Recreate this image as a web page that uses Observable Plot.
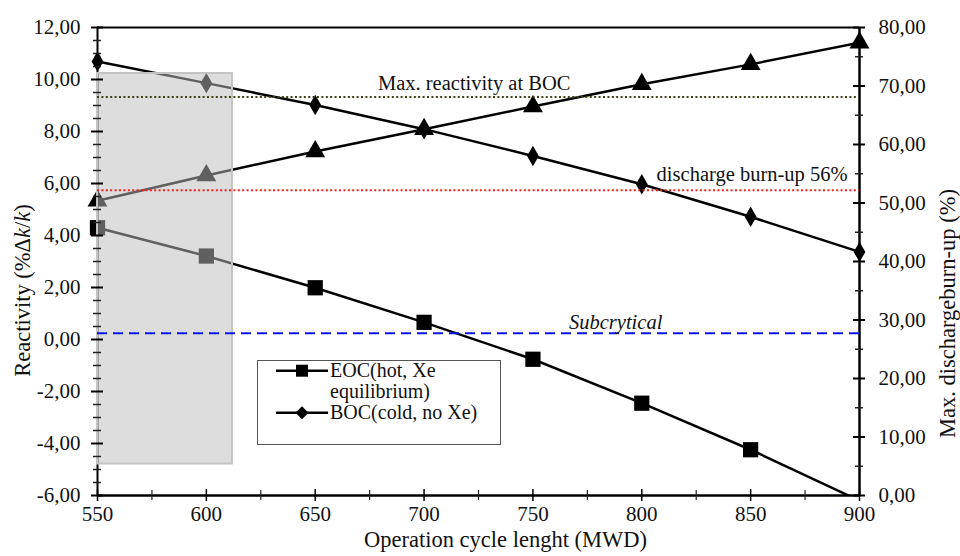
<!DOCTYPE html>
<html><head><meta charset="utf-8">
<script src="https://cdn.jsdelivr.net/npm/d3@7"></script>
<script src="https://cdn.jsdelivr.net/npm/@observablehq/plot@0.6"></script>
<style>
html,body{margin:0;padding:0;background:#fff;}
#wrap{position:relative;width:960px;height:556px;font-family:"Liberation Serif","Times New Roman",Tinos,"DejaVu Serif",serif;}
#wrap svg, #wrap svg text{font-family:"Liberation Serif","Times New Roman",Tinos,"DejaVu Serif",serif !important;}
#legend{position:absolute;left:257px;top:360px;}
</style></head><body><div id="wrap"></div>
<script>
// ---- data ----
const cycles = [550, 600, 650, 700, 750, 800, 850, 900];
const eocReactivity = [4.30, 3.21, 1.99, 0.66, -0.76, -2.45, -4.24, -6.2];   // %Δk/k, left axis
const bocReactivity = [10.69, 9.86, 9.02, 8.09, 7.06, 5.97, 4.72, 3.37];    // %Δk/k, left axis
const maxBurnup = [50.4, 54.7, 58.8, 62.6, 66.5, 70.3, 73.7, 77.4];         // %, right axis

const xTicks = [550, 600, 650, 700, 750, 800, 850, 900];
const leftTicks = [-6, -4, -2, 0, 2, 4, 6, 8, 10, 12];
const rightTicks = [0, 10, 20, 30, 40, 50, 60, 70, 80];

const shadeX = [550, 612];
const shadeY = [-4.79, 10.23];

const refMaxReactivity = 9.33;   // left axis
const refDischargeBurnup = 52.2; // right axis
const refSubcritical = 0.24;     // left axis

const xTitle = "Operation cycle lenght (MWD)";
const yTitle = "Reactivity (%Δk/k)";
const y2Title = "Max. dischargeburn-up (%)";
const legendLabels = [["EOC(hot, Xe", "equilibrium)"], ["BOC(cold, no Xe)"]];

// ---- helpers ----
const FONT = '"Liberation Serif", "Times New Roman", Tinos, "DejaVu Serif", serif';
const yDomain = [-6, 12], y2Domain = [0, 80];
const toLeft = v => yDomain[0] + (v - y2Domain[0]) * (yDomain[1] - yDomain[0]) / (y2Domain[1] - y2Domain[0]);
const toRight = v => y2Domain[0] + (v - yDomain[0]) * (y2Domain[1] - y2Domain[0]) / (yDomain[1] - yDomain[0]);
const fmt = v => (Math.round(v * 100) / 100).toFixed(2).replace(".", ",");

const eoc = cycles.map((c, i) => ({x: c, y: eocReactivity[i]}));
const boc = cycles.map((c, i) => ({x: c, y: bocReactivity[i]}));
const bu = cycles.map((c, i) => ({x: c, y: toLeft(maxBurnup[i])}));

const leftMinor = d3.range(yDomain[0], yDomain[1] + 0.01, 0.5).filter(v => !leftTicks.includes(v));
const rightMinor = d3.range(5, 80, 10).map(toLeft);
const xMinor = d3.range(575, 900, 50);

const FS_TICK = 21, FS_TITLE = 22.5, FS_NOTE = 20.5;

const plot = Plot.plot({
  width: 960, height: 556,
  marginLeft: 97, marginRight: 101, marginTop: 27, marginBottom: 61,
  style: {fontFamily: FONT, background: "white", color: "black"},
  x: {domain: [550, 900], axis: null},
  y: {domain: yDomain, axis: null},
  marks: [
    // left axis line (under the overlay)
    Plot.ruleX([550], {stroke: "black", strokeWidth: 2}),
    // series lines
    Plot.line(eoc, {x: "x", y: "y", stroke: "black", strokeWidth: 2.5, clip: true}),
    Plot.line(boc, {x: "x", y: "y", stroke: "black", strokeWidth: 2.5, clip: true}),
    Plot.line(bu, {x: "x", y: "y", stroke: "black", strokeWidth: 2.5, clip: true}),
    // markers
    Plot.dot(eoc.filter(d => d.y >= yDomain[0]), {x: "x", y: "y", symbol: "square", r: 8.6, fill: "black", stroke: "none"}),
    Plot.dot(boc, {x: "x", y: "y", symbol: "diamond", r: 6.2, fill: "black", stroke: "none"}),
    Plot.dot(bu, {x: "x", y: "y", symbol: "triangle", r: 7.4, fill: "black", stroke: "none"}),
    // shaded overlay
    Plot.rect([0], {x1: () => shadeX[0], x2: () => shadeX[1], y1: () => shadeY[0], y2: () => shadeY[1],
      fill: "rgb(188,188,188)", fillOpacity: 0.51, stroke: "#c4c4c4", strokeWidth: 2}),
    // frame
    Plot.ruleY([12], {stroke: "black", strokeWidth: 2}),
    Plot.ruleY([-6], {stroke: "black", strokeWidth: 2.5}),
    Plot.ruleX([900], {stroke: "black", strokeWidth: 2.5}),
    // ticks (crossing the axes)
    Plot.ruleY(leftTicks, {y: d => d, x1: () => 550, x2: () => 550, insetLeft: -6, insetRight: -6, stroke: "black", strokeWidth: 2}),
    Plot.ruleY(leftMinor, {y: d => d, x1: () => 550, x2: () => 550, insetLeft: -4, insetRight: -4, stroke: "#222", strokeWidth: 1.5}),
    Plot.ruleY(rightTicks.map(toLeft), {y: d => d, x1: () => 900, x2: () => 900, insetLeft: -6, insetRight: -6, stroke: "black", strokeWidth: 2}),
    Plot.ruleY(rightMinor, {y: d => d, x1: () => 900, x2: () => 900, insetLeft: -4, insetRight: -4, stroke: "#222", strokeWidth: 1.5}),
    Plot.ruleX(xTicks, {x: d => d, y1: () => -6, y2: () => -6, insetTop: -6, insetBottom: -6, stroke: "black", strokeWidth: 1.5}),
    Plot.ruleX(xMinor, {x: d => d, y1: () => -6, y2: () => -6, insetTop: -5, insetBottom: -5, stroke: "#222", strokeWidth: 1.2}),
    // reference lines
    Plot.ruleY([refMaxReactivity], {stroke: "#3f3f14", strokeWidth: 2, strokeDasharray: "2,2.4"}),
    Plot.ruleY([toLeft(refDischargeBurnup)], {stroke: "#f02020", strokeWidth: 2, strokeDasharray: "2,2.4"}),
    Plot.ruleY([refSubcritical], {stroke: "#0a14f0", strokeWidth: 2, strokeDasharray: "10,6"}),
    // annotations
    Plot.text(["Max. reactivity at BOC"], {x: () => 723, y: () => refMaxReactivity, text: d => d, lineAnchor: "bottom", dy: -7, fontSize: FS_NOTE, fill: "#111", textAnchor: "middle"}),
    Plot.text(["discharge burn-up 56%"], {x: () => 894.5, y: () => toLeft(refDischargeBurnup), text: d => d, lineAnchor: "bottom", dy: -9, fontSize: FS_NOTE, fill: "#111", textAnchor: "end"}),
    Plot.text(["Subcrytical"], {x: () => 788, y: () => refSubcritical, text: d => d, lineAnchor: "bottom", dy: -4, fontSize: FS_NOTE, fill: "#111", fontStyle: "italic", textAnchor: "middle"}),
    // axes labels
    Plot.axisY({ticks: leftTicks, tickSize: 0, tickPadding: 17, tickFormat: fmt, fontSize: FS_TICK, label: null, fill: "#111"}),
    Plot.axisY({anchor: "right", ticks: rightTicks.map(toLeft), tickSize: 0, tickPadding: 19, tickFormat: d => fmt(toRight(d)), fontSize: FS_TICK, label: null, fill: "#111"}),
    Plot.axisX({ticks: xTicks, tickSize: 0, tickPadding: 11, tickFormat: d => String(d), fontSize: FS_TICK, label: null, fill: "#111"}),
    // axis titles
    Plot.text([xTitle], {frameAnchor: "bottom", text: d => d, dx: 27, dy: 51, lineAnchor: "bottom", textAnchor: "middle", fontSize: FS_TITLE, fill: "#111"}),
    Plot.text([yTitle], {frameAnchor: "left", text: d => d, dx: -75, dy: 29, rotate: -90, lineAnchor: "middle", textAnchor: "middle", fontSize: FS_TITLE, fill: "#111"}),
    Plot.text([y2Title], {frameAnchor: "right", text: d => d, dx: 88, dy: 52, rotate: -90, lineAnchor: "middle", textAnchor: "middle", fontSize: FS_TITLE, fill: "#111"})
  ]
});

// italic k in the y title
d3.select(plot).selectAll("text").filter(function () { return this.textContent === yTitle; }).each(function () {
  const t = d3.select(this);
  t.text(null);
  t.append("tspan").text("Reactivity (%Δ");
  t.append("tspan").attr("font-style", "italic").text("k");
  t.append("tspan").text("/");
  t.append("tspan").attr("font-style", "italic").text("k");
  t.append("tspan").text(")");
});

const wrap = document.getElementById("wrap");
wrap.appendChild(plot);

// legend box
const lg = d3.select(wrap).append("svg").attr("id", "legend").attr("width", 244).attr("height", 85)
  .style("font-family", FONT);
lg.append("rect").attr("x", 0.5).attr("y", 0.5).attr("width", 243).attr("height", 84).attr("fill", "white").attr("stroke", "#555").attr("stroke-width", 1);
const rowsY = [10.7, 52.7];
const symbols = ["square", "diamond"];
rowsY.forEach((yy, i) => {
  lg.append("line").attr("x1", 19).attr("x2", 71).attr("y1", yy).attr("y2", yy).attr("stroke", "black").attr("stroke-width", 2.5);
  if (symbols[i] === "square") {
    lg.append("rect").attr("x", 45 - 6).attr("y", yy - 6).attr("width", 12).attr("height", 12).attr("fill", "black");
  } else {
    lg.append("path").attr("d", `M45,${yy - 6.5}L51.5,${yy}L45,${yy + 6.5}L38.5,${yy}Z`).attr("fill", "black");
  }
});
const textBase = [[17, 37.5], [58.5]];
legendLabels.forEach((lines, i) => {
  lines.forEach((s, j) => {
    lg.append("text").attr("x", 73).attr("y", textBase[i][j]).attr("font-size", 20).attr("fill", "#111").text(s);
  });
});
</script>
</body></html>
